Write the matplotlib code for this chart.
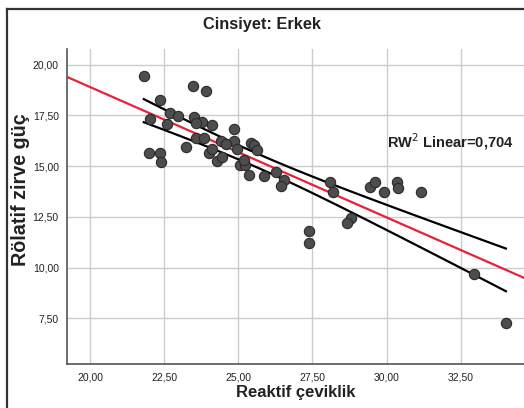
import numpy as np
import matplotlib
matplotlib.use("Agg")
import matplotlib.pyplot as plt
from matplotlib.lines import Line2D

# Data
reaktif = [21.81, 23.48, 23.90, 22.37, 22.71, 22.96, 22.03, 22.60, 23.50, 23.78,
           24.10, 24.86, 23.56, 23.85, 21.98, 22.37, 22.40, 23.24, 24.01, 24.12,
           24.29, 24.46, 24.41, 24.84, 24.97, 25.42, 25.54, 25.63, 25.06, 25.22,
           25.37, 25.85, 26.27, 26.55, 26.44, 28.08, 28.19, 29.44, 29.60, 29.92,
           30.37, 30.40, 31.16, 28.81, 28.67, 27.40, 27.40, 32.94, 34.03, 23.58,
           25.20, 24.58]
rolatif = [19.43, 18.94, 18.69, 18.28, 17.63, 17.47, 17.34, 17.06, 17.44, 17.19,
           17.03, 16.85, 16.41, 16.41, 15.67, 15.67, 15.21, 15.97, 15.64, 15.87,
           15.26, 15.43, 16.24, 16.24, 15.83, 16.13, 16.03, 15.80, 15.05, 15.05,
           14.56, 14.50, 14.69, 14.33, 14.03, 14.23, 13.74, 13.96, 14.20, 13.71,
           14.23, 13.91, 13.74, 12.44, 12.19, 11.78, 11.21, 9.67, 7.25, 17.11,
           15.30, 16.08]
xticks = [20.0, 22.5, 25.0, 27.5, 30.0, 32.5]
yticks = [7.5, 10.0, 12.5, 15.0, 17.5, 20.0]
title = "Cinsiyet: Erkek"
xlabel = "Reaktif çeviklik"
ylabel = "Rölatif zirve güç"
r2_text = "RW$^2$ Linear=0,704"

fam = ['Liberation Sans Narrow', 'Liberation Sans', 'DejaVu Sans']
plt.rcParams['font.family'] = fam

x = np.array(reaktif)
y = np.array(rolatif)
n = len(x)
b1, b0 = np.polyfit(x, y, 1)
resid = y - (b0 + b1 * x)
s = np.sqrt(np.sum(resid ** 2) / (n - 2))
tval = 2.01
sxx = np.sum((x - x.mean()) ** 2)

fig = plt.figure(figsize=(5.24, 4.08), dpi=100)
ax = fig.add_axes([0.128, 0.108, 0.872, 0.772])
xlim = (19.22, 34.64)
ylim = (5.25, 20.78)
ax.set_xlim(*xlim)
ax.set_ylim(*ylim)

ax.grid(True, color='#cccccc', linewidth=1.0)
ax.set_axisbelow(True)
for sp in ['top', 'right']:
    ax.spines[sp].set_visible(False)
for sp in ['left', 'bottom']:
    ax.spines[sp].set_color('#555555')
    ax.spines[sp].set_linewidth(1.2)

ax.set_xticks(xticks)
ax.set_yticks(yticks)
ax.set_xticklabels([f"{v:.2f}".replace('.', ',') for v in xticks])
ax.set_yticklabels([f"{v:.2f}".replace('.', ',') for v in yticks])
ax.tick_params(length=0, labelsize=7.5, colors='#222222', pad=6)

# fit line across full x range
xf = np.linspace(xlim[0], xlim[1], 100)
ax.plot(xf, b0 + b1 * xf, color='#e8213a', linewidth=1.6, zorder=3)
# mean confidence interval over data range
xc = np.linspace(x.min(), x.max(), 100)
half = tval * s * np.sqrt(1.0 / n + (xc - x.mean()) ** 2 / sxx)
ax.plot(xc, b0 + b1 * xc + half, color='black', linewidth=1.6, zorder=3)
ax.plot(xc, b0 + b1 * xc - half, color='black', linewidth=1.6, zorder=3)

ax.scatter(x, y, s=55, color='#4d4d4d', edgecolors='#2a2a2a', linewidths=0.8, zorder=4)

fig.text(0.5, 0.94, title, ha='center', va='center', fontsize=11.8, fontweight='bold', color='#222222')
ax.set_xlabel(xlabel, fontsize=12, fontweight='bold', color='#222222', labelpad=2)
fig.text(0.040, 0.535, ylabel, rotation=90, ha='center', va='center', fontsize=14.2, fontweight='bold', color='#222222')
fig.text(0.738, 0.652, r2_text, ha='left', va='center', fontsize=10.5, fontweight='bold', color='#222222')

# outer frame (left and top edges)
fig.add_artist(Line2D([0.0143, 0.0143], [0.0, 0.978], color='#333333', linewidth=1.6, transform=fig.transFigure))
fig.add_artist(Line2D([0.0143, 1.0], [0.978, 0.978], color='#333333', linewidth=1.6, transform=fig.transFigure))

fig.savefig('out.png', dpi=100)
